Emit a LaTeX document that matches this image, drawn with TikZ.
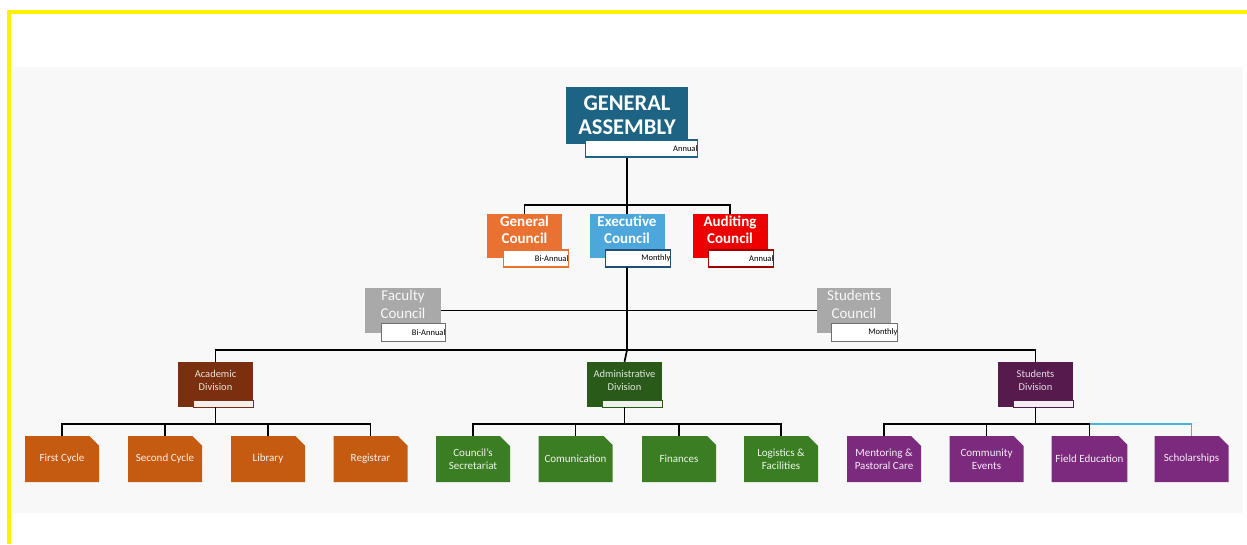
\documentclass[tikz,border=0pt]{standalone}
\usepackage{fontspec}
\setmainfont{Carlito}
\usetikzlibrary{shapes.misc}
\definecolor{bggray}{HTML}{F8F8F8}
\definecolor{teal1}{HTML}{1D6383}
\definecolor{orange1}{HTML}{E97132}
\definecolor{blue1}{HTML}{4DA7DB}
\definecolor{navy1}{HTML}{1F4E79}
\definecolor{red1}{HTML}{EE0000}
\definecolor{dred1}{HTML}{A00000}
\definecolor{gray1}{HTML}{A9A9A9}
\definecolor{gray2}{HTML}{6F6F6F}
\definecolor{brown1}{HTML}{7A300E}
\definecolor{dgreen1}{HTML}{2A5A1A}
\definecolor{dpurple1}{HTML}{561A4D}
\definecolor{leaforange}{HTML}{C55A11}
\definecolor{leafgreen}{HTML}{3A7D22}
\definecolor{leafpurple}{HTML}{7C2A7E}
\definecolor{cyan1}{HTML}{44B4DC}
\begin{document}
\begin{tikzpicture}[x=1pt,y=-1pt,
  conn/.style={line width=1.7pt, black},
  mainbox/.style={fill=#1, inner sep=0pt, text=white, align=center},
  subbox/.style n args={2}{draw=#1, fill=white, line width=1.2pt, inner sep=0pt,
     minimum height=17pt, text width=#2-5pt, align=right, text=black,
     font=\fontsize{8.5}{9}\selectfont},
  divbox/.style={fill=#1, inner sep=0pt, minimum width=75pt, minimum height=45pt,
     text=white!85!#1, align=center, font=\fontsize{10.5}{13}\selectfont},
  divsub/.style={fill=white!92!#1, draw=#1, line width=0.8pt, inner sep=0pt,
     minimum width=60pt, minimum height=7pt},
  leaf/.style={chamfered rectangle, chamfered rectangle corners=north east,
     chamfered rectangle sep=5pt, fill=#1, inner sep=0pt, minimum width=74pt,
     minimum height=46pt, text=white!92!#1, align=center,
     font=\fontsize{11}{13.5}\selectfont},
  councilfont/.style={font=\bfseries\fontsize{15}{17.5}\selectfont},
  greyfont/.style={font=\fontsize{15}{17.5}\selectfont}
]
\useasboundingbox (0,0) rectangle (1247,544);
\fill[white] (0,0) rectangle (1247,544);
\fill[bggray] (12,67) rectangle (1243,513);
\draw[yellow, line width=4pt] (9,544) -- (9,12) -- (1247,12);

% top level
\node[mainbox=teal1, minimum width=122pt, minimum height=57pt,
      font=\bfseries\fontsize{22.5}{24}\selectfont] (ga) at (627,115.5) {GENERAL\\ASSEMBLY};
\node[subbox={teal1}{117pt}] (gasub) at (641.5,148.5) {Annual};

% councils
\node[mainbox=orange1, minimum width=75pt, minimum height=44pt, councilfont] (gc) at (524.5,236) {General\\Council\\[-5pt]};
\node[subbox={orange1}{70pt}] (gcsub) at (536,258.5) {Bi-Annual};
\node[mainbox=blue1, minimum width=75pt, minimum height=44pt, councilfont] (ec) at (627,236) {Executive\\Council\\[-5pt]};
\node[subbox={navy1}{70pt}] (ecsub) at (638,258.5) {Monthly};
\node[mainbox=red1, minimum width=75pt, minimum height=44pt, councilfont] (ac) at (730,236) {Auditing\\Council\\[-5pt]};
\node[subbox={dred1}{70pt}] (acsub) at (741,258.5) {Annual};

% faculty / students council
\node[mainbox=gray1, text=white!92!gray1, minimum width=76pt, minimum height=45pt, greyfont] (fc) at (403,310.5) {Faculty\\Council\\[-5pt]};
\node[subbox={gray2}{69pt}, minimum height=18pt] (fcsub) at (413.5,332.5) {Bi-Annual};
\node[mainbox=gray1, text=white!92!gray1, minimum width=74pt, minimum height=45pt, greyfont] (sc) at (854,310.5) {Students\\Council\\[-5pt]};
\node[subbox={gray2}{71pt}, minimum height=18pt] (scsub) at (864.5,332.5) {Monthly};

% divisions
\node[divbox=brown1] (ad) at (215.5,384.5) {Academic\\Division\\[-4pt]};
\node[divsub=brown1] (adsub) at (223,403.5) {};
\node[divbox=dgreen1] (adm) at (624.5,384.5) {Administrative\\Division\\[-4pt]};
\node[divsub=dgreen1] (admsub) at (632,403.5) {};
\node[divbox=dpurple1] (sd) at (1035.5,384.5) {Students\\Division\\[-4pt]};
\node[divsub=dpurple1] (sdsub) at (1043,403.5) {};

% leaves
\node[leaf=leaforange] (o1) at (62,459) {First Cycle};
\node[leaf=leaforange] (o2) at (165,459) {Second Cycle};
\node[leaf=leaforange] (o3) at (268,459) {Library};
\node[leaf=leaforange] (o4) at (370.5,459) {Registrar};
\node[leaf=leafgreen] (g1) at (473,459) {Council's\\Secretariat};
\node[leaf=leafgreen] (g2) at (575.5,459) {Comunication};
\node[leaf=leafgreen] (g3) at (679,459) {Finances};
\node[leaf=leafgreen] (g4) at (781,459) {Logistics \&\\Facilities};
\node[leaf=leafpurple] (p1) at (884,459) {Mentoring \&\\Pastoral Care};
\node[leaf=leafpurple] (p2) at (986.5,459) {Community\\Events};
\node[leaf=leafpurple] (p3) at (1089.5,459) {Field Education};
\node[leaf=leafpurple] (p4) at (1191.5,459) {Scholarships};

% connectors
\coordinate (b1) at (627,205);
\draw[conn] (ga.south |- gasub.south) -- (b1) -- (ec.north);
\draw[conn] (gc.north) |- (b1) -| (ac.north);

\coordinate (b2) at (627,350);
\draw[conn] (ec.south |- ecsub.south) -- (b2) -- (adm.north);
\draw[conn] (ad.north) |- (b2) -| (sd.north);
\draw[conn] (fc.east) -- (sc.west);

\draw[conn] (ad.south) -- ++(0,17) coordinate (ba);
\draw[conn] (o1.north) |- (ba) -| (o4.north);
\draw[conn] (o2.north) |- (ba);
\draw[conn] (o3.north) |- (ba);

\draw[conn] (adm.south) -- ++(0,17) coordinate (bg);
\draw[conn] (g1.north) |- (bg) -| (g4.north);
\draw[conn] (g2.north) |- (bg);
\draw[conn] (g3.north) |- (bg);

\draw[conn] (sd.south) -- ++(0,17) coordinate (bp);
\draw[conn] (p1.north) |- (bp) -| (p3.north);
\draw[conn] (p2.north) |- (bp);
\draw[conn, cyan1] (p3.north |- bp) -| (p4.north);
\end{tikzpicture}
\end{document}
